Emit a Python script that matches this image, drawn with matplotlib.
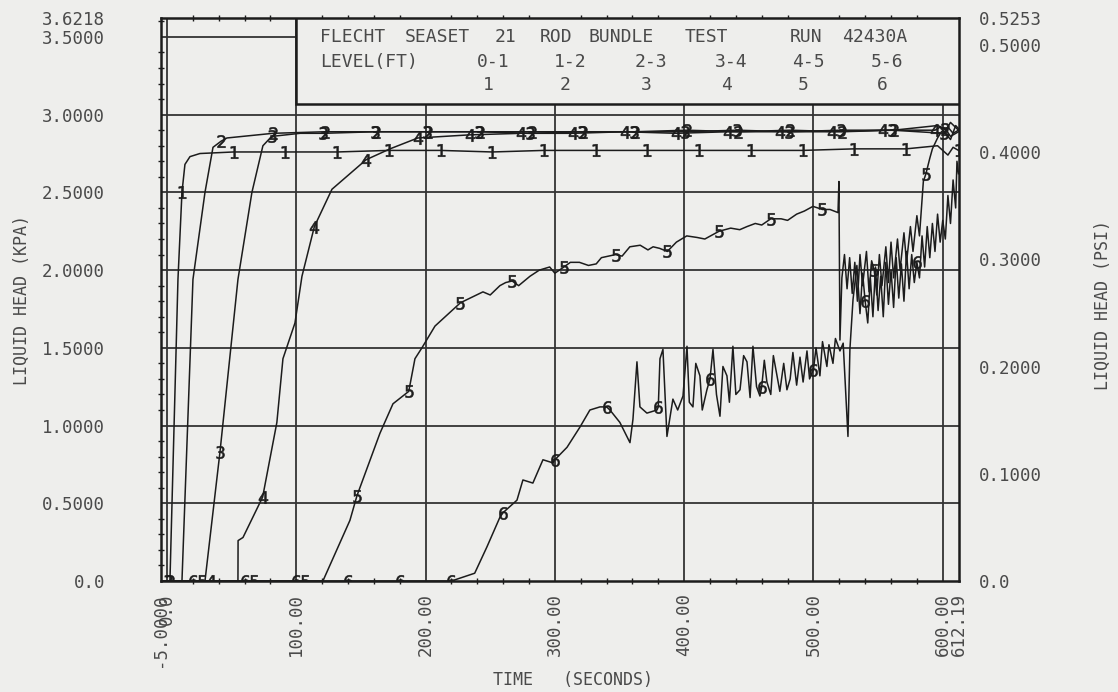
"""
FLECHT SEASET 21 rod bundle test, run 42430A:
liquid head per 1-ft level versus time (re-drawn from a scanned plot).
"""

import numpy as np
import matplotlib.pyplot as plt
from matplotlib.patches import Rectangle
from matplotlib.ticker import MultipleLocator

plt.rcParams['font.family'] = ['DejaVu Sans Mono', 'DejaVu Sans']

BG = '#eeeeec'
INK = '#1c1c1c'
TXT = '#4a4a4a'

# ---- data: time (s) / liquid head (kPa) ----
t_lvl1 = [-5.0, 2.3, 8.5, 11.6, 13.9, 17.8, 25.5, 51.6, 91.6, 131.6, 171.6, 211.6,
          251.6, 291.6, 331.6, 371.6, 411.6, 451.6, 491.6, 531.6, 571.6, 596.0,
          604.0, 608.0, 612.19]
h_lvl1 = [0.0, 0.0, 1.94, 2.50, 2.68, 2.73, 2.75, 2.76, 2.76, 2.76, 2.77, 2.77,
          2.76, 2.77, 2.77, 2.77, 2.77, 2.77, 2.77, 2.78, 2.78, 2.80,
          2.74, 2.79, 2.77]

t_lvl2 = [-5.0, 2.0, 11.6, 20.1, 29.4, 35.6, 42.0, 46.4, 82.0, 122.0, 162.0, 202.0,
          242.0, 282.0, 322.0, 362.0, 402.0, 442.0, 482.0, 522.0, 562.0, 596.0,
          602.0, 606.0, 612.19]
h_lvl2 = [0.0, 0.0, 0.0, 1.94, 2.50, 2.79, 2.83, 2.85, 2.88, 2.89, 2.89, 2.89,
          2.89, 2.89, 2.89, 2.89, 2.90, 2.89, 2.90, 2.89, 2.90, 2.93,
          2.91, 2.86, 2.89]

t_lvl3 = [-5.0, 1.0, 29.4, 41.0, 54.9, 65.7, 74.2, 81.0, 103.0, 121.0, 161.0, 201.0,
          241.0, 281.0, 321.0, 361.0, 401.0, 441.0, 481.0, 521.0, 561.0, 601.0,
          606.0, 612.19]
h_lvl3 = [0.0, 0.0, 0.0, 0.83, 1.94, 2.50, 2.80, 2.86, 2.88, 2.88, 2.89, 2.89,
          2.89, 2.88, 2.89, 2.89, 2.89, 2.90, 2.89, 2.90, 2.90, 2.88,
          2.95, 2.90]

t_lvl4 = [-5.0, 34.0, 54.9, 55.0, 58.8, 74.0, 85.0, 89.7, 99.0, 104.4, 114.0, 127.6,
          154.0, 172.5, 194.0, 234.0, 274.0, 314.0, 354.0, 394.0, 434.0, 474.0,
          514.0, 554.0, 594.0, 598.0, 606.0, 610.0, 612.19]
h_lvl4 = [0.0, 0.0, 0.0, 0.26, 0.28, 0.54, 1.02, 1.43, 1.66, 1.96, 2.28, 2.52,
          2.71, 2.78, 2.85, 2.87, 2.88, 2.88, 2.89, 2.88, 2.89, 2.89,
          2.89, 2.90, 2.90, 2.92, 2.84, 2.93, 2.91]

t_lvl5 = [-5.0, 27.0, 67.0, 107.0, 120.6, 141.5, 147.0, 164.7, 174.8, 187.0, 191.8,
          197.2, 207.3, 227.0, 244.4, 250.0, 257.5, 262.0, 267.0, 272.0, 280.7,
          288.0, 296.0, 300.0, 307.0, 312.0, 319.0, 326.0, 332.0, 336.0, 347.0,
          352.0, 358.0, 366.0, 372.0, 376.0, 381.0, 387.0, 394.0, 402.0, 410.0,
          416.0, 427.0, 436.0, 443.0, 448.6, 455.0, 460.0, 467.0, 475.0, 480.0,
          487.0, 493.0, 499.6, 507.0, 512.8, 519.0, 519.7, 520.5, 522.0, 524.0,
          526.0, 528.0, 530.0, 532.0, 534.0, 536.0, 538.0, 541.0, 543.0, 545.0,
          547.0, 549.0, 551.0, 553.0, 556.0, 558.0, 560.0, 562.0, 565.0, 567.0,
          570.0, 572.0, 575.0, 577.0, 580.0, 582.0, 585.0, 587.0, 590.0, 592.0,
          596.0, 599.0, 604.0, 608.0, 612.19]
h_lvl5 = [0.0, 0.0, 0.0, 0.0, 0.0, 0.39, 0.55, 0.95, 1.14, 1.22, 1.43,
          1.50, 1.64, 1.79, 1.86, 1.84, 1.90, 1.92, 1.93, 1.90, 1.96,
          2.00, 2.02, 1.98, 2.02, 2.05, 2.05, 2.03, 2.04, 2.08, 2.10,
          2.09, 2.15, 2.16, 2.13, 2.15, 2.14, 2.12, 2.18, 2.22, 2.21,
          2.20, 2.25, 2.27, 2.26, 2.28, 2.30, 2.29, 2.33, 2.33, 2.32,
          2.36, 2.38, 2.41, 2.39, 2.39, 2.37, 2.57, 1.55, 1.95, 2.10,
          1.88, 2.08, 1.85, 2.05, 1.80, 2.10, 1.90, 2.12, 1.86, 2.06,
          2.00, 1.84, 2.10, 1.90, 2.15, 1.92, 2.18, 1.95, 2.20, 2.00,
          2.24, 2.05, 2.28, 2.12, 2.35, 2.22, 2.57, 2.62, 2.72, 2.78,
          2.85, 2.89, 2.92, 2.88, 2.90]

t_lvl6 = [-5.0, 20.0, 60.0, 100.0, 140.0, 180.0, 220.0, 238.0, 247.5, 257.5, 260.0,
          270.7, 275.3, 283.0, 290.8, 298.5, 300.0, 309.4, 319.4, 327.1, 334.9,
          340.0, 342.6, 350.3, 358.1, 360.4, 363.5, 365.8, 371.2, 379.0, 380.0,
          381.3, 383.6, 386.7, 391.3, 395.0, 399.1, 402.2, 404.0, 406.8, 409.0,
          412.2, 414.0, 417.6, 420.0, 422.3, 425.0, 427.7, 430.0, 433.1, 435.0,
          437.7, 440.0, 443.2, 446.0, 448.6, 451.0, 453.2, 456.0, 458.6, 460.0,
          462.0, 464.0, 467.0, 469.0, 471.8, 474.0, 477.0, 479.5, 482.0, 484.1,
          487.0, 489.6, 492.0, 495.0, 497.0, 500.0, 502.0, 505.0, 507.0, 510.4,
          512.0, 515.1, 517.0, 520.5, 523.0, 526.7, 528.2, 530.6, 533.6, 536.0,
          538.0, 540.0, 542.0, 544.0, 546.0, 548.0, 550.0, 552.0, 554.0, 556.0,
          558.0, 560.0, 562.0, 564.0, 566.0, 568.0, 570.0, 572.0, 574.0, 576.0,
          578.0, 580.0, 582.0, 584.0, 586.0, 588.0, 590.0, 592.0, 594.0, 596.0,
          598.0, 600.0, 602.0, 604.0, 606.0, 608.0, 610.0, 611.0, 612.19]
h_lvl6 = [0.0, 0.0, 0.0, 0.0, 0.0, 0.0, 0.0, 0.05, 0.22, 0.41, 0.44,
          0.52, 0.65, 0.63, 0.78, 0.76, 0.78, 0.86, 0.99, 1.10, 1.12,
          1.12, 1.10, 1.02, 0.89, 1.04, 1.41, 1.12, 1.08, 1.10, 1.12,
          1.43, 1.49, 0.93, 1.17, 1.10, 1.19, 1.51, 1.15, 1.12, 1.40,
          1.32, 1.10, 1.23, 1.30, 1.49, 1.20, 1.06, 1.38, 1.32, 1.15,
          1.51, 1.20, 1.23, 1.45, 1.41, 1.18, 1.51, 1.25, 1.19, 1.25,
          1.42, 1.28, 1.20, 1.45, 1.32, 1.22, 1.40, 1.23, 1.30, 1.47,
          1.26, 1.44, 1.28, 1.48, 1.30, 1.36, 1.50, 1.32, 1.54, 1.38,
          1.52, 1.40, 1.56, 1.48, 1.53, 0.93, 1.49, 1.81, 2.03, 1.72,
          1.98, 1.80, 1.66, 1.95, 1.70, 2.02, 1.74, 1.96, 1.70, 2.05,
          1.78, 2.00, 1.76, 2.08, 1.82, 2.04, 1.80, 2.12, 1.88, 2.10,
          1.92, 2.05, 1.95, 2.22, 2.02, 2.28, 2.08, 2.30, 2.12, 2.36,
          2.18, 2.32, 2.20, 2.48, 2.30, 2.58, 2.40, 2.70, 2.62]

curves = [(t_lvl1, h_lvl1), (t_lvl2, h_lvl2), (t_lvl3, h_lvl3),
          (t_lvl4, h_lvl4), (t_lvl5, h_lvl5), (t_lvl6, h_lvl6)]
level_names = ['0-1', '1-2', '2-3', '3-4', '4-5', '5-6']
# the plotter put the curve number on every 40 s, starting at these times
mark_start = [11.6, 2.0, 1.0, 34.0, 27.0, 20.0]

x_ticks = [-5.0, 0.0, 100.0, 200.0, 300.0, 400.0, 500.0, 600.0, 612.19]
x_labels = ['-5.0000', '0.0', '100.00', '200.00', '300.00', '400.00', '500.00',
            '600.00', '612.19']
y_ticks = [0.0, 0.5, 1.0, 1.5, 2.0, 2.5, 3.0, 3.5, 3.6218]
y_labels = ['0.0', '0.5000', '1.0000', '1.5000', '2.0000', '2.5000', '3.0000',
            '3.5000', '3.6218']
psi_ticks = [0.0, 0.1, 0.2, 0.3, 0.4, 0.5, 0.5253]
psi_labels = ['0.0', '0.1000', '0.2000', '0.3000', '0.4000', '0.5000', '0.5253']


def mark_indices(t, start):
    """Index of the sample closest to every 40 s marker time."""
    t = np.asarray(t)
    marks = np.arange(start, t[-1], 40.0)
    return sorted({int(np.argmin(np.abs(t - m))) for m in marks})


def px(x, y):
    """Pixel position in the 1118x692 picture -> figure fraction."""
    return x / 1118, 1 - y / 692


fig = plt.figure(figsize=(11.18, 6.92), dpi=100, facecolor=BG)
ax = fig.add_axes([160.5 / 1118, 1 - 581 / 692, 798 / 1118, 563 / 692])
ax.set_facecolor(BG)

# curves, each labelled with its number along the trace
for n, (t, h) in enumerate(curves, start=1):
    ax.plot(t, h, color=INK, lw=1.1, zorder=3,
            marker=f'${n}$', ms=9, mec=INK, mfc=INK, mew=0.4,
            markevery=mark_indices(t, mark_start[n - 1]))

ax.set_xlim(-5.0, 612.19)
ax.set_ylim(0.0, 3.6218)

# grid
for x in [0, 100, 200, 300, 400, 500, 600]:
    ax.axvline(x, color='#333333', lw=1.3, zorder=1)
for y in [0.5, 1.0, 1.5, 2.0, 2.5, 3.0, 3.5]:
    ax.axhline(y, color='#333333', lw=1.3, zorder=1)

# title / legend box in the upper right
ax.add_patch(Rectangle((100.0, 3.07), 512.19, 0.5518, facecolor=BG,
                       edgecolor=INK, lw=1.8, zorder=5))

for s in ax.spines.values():
    s.set_linewidth(1.8)
    s.set_color(INK)

ax.set_xticks(x_ticks)
ax.set_xticklabels(x_labels, rotation=90)
ax.set_yticks(y_ticks)
ax.set_yticklabels(y_labels)
ax.xaxis.set_minor_locator(MultipleLocator(20))
ax.yaxis.set_minor_locator(MultipleLocator(0.1))
ax.tick_params(which='major', length=0, labelsize=12.5, colors=TXT)
ax.tick_params(axis='x', which='major', pad=9)
ax.tick_params(axis='y', which='major', pad=40)
ax.tick_params(which='minor', direction='inout', length=5, width=1.0, color=INK,
               top=True, bottom=True, left=True, right=True)

ax2 = ax.twinx()
ax2.set_ylim(0.0, 0.5253)
ax2.set_yticks(psi_ticks)
ax2.set_yticklabels(psi_labels)
ax2.tick_params(length=0, labelsize=12.5, colors=TXT, pad=15)
for s in ax2.spines.values():
    s.set_visible(False)

# axis titles
fig.text(*px(22, 300), 'LIQUID HEAD (KPA)', rotation=90, ha='center', va='center',
         fontsize=12, color=TXT)
fig.text(*px(1103, 305), 'LIQUID HEAD (PSI)', rotation=90, ha='center', va='center',
         fontsize=12, color=TXT)
fig.text(*px(573, 680), 'TIME   (SECONDS)', ha='center', va='center',
         fontsize=12, color=TXT)

# box text
box_words = [('FLECHT', 320), ('SEASET', 405), ('21', 495), ('ROD', 540),
             ('BUNDLE', 588), ('TEST', 685), ('RUN', 790), ('42430A', 842)]
for word, x in box_words:
    fig.text(*px(x, 37), word, ha='left', va='center', fontsize=13, color=TXT)
fig.text(*px(320, 62), 'LEVEL(FT)', ha='left', va='center', fontsize=13, color=TXT)
level_x = [493, 570, 651, 731, 808, 887]
for i, (name, x) in enumerate(zip(level_names, level_x)):
    fig.text(*px(x, 62), name, ha='center', va='center', fontsize=13, color=TXT)
    fig.text(*px(x - 5, 85), str(i + 1), ha='center', va='center', fontsize=13,
             color=TXT)

fig.savefig('out.png', dpi=100, facecolor=BG)
